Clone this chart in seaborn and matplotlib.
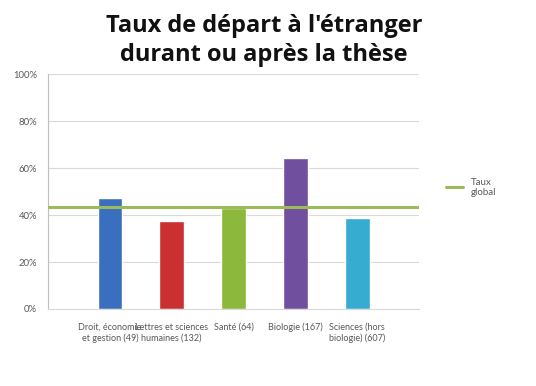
import matplotlib
matplotlib.use("Agg")
import matplotlib.pyplot as plt
import seaborn as sns
import pandas as pd
from matplotlib.ticker import PercentFormatter

# --- DATA ---
categories = [
    "Droit, économie\net gestion (49)",
    "Lettres et sciences\nhumaines (132)",
    "Santé (64)",
    "Biologie (167)",
    "Sciences (hors\nbiologie) (607)",
]
taux = [47.2, 37.4, 43.2, 64.4, 38.9]
taux_global = 43.5
bar_colors = ["#3a6fc0", "#c9302f", "#8cb83c", "#6f4f9e", "#35acd0"]

df = pd.DataFrame({"cat": categories, "taux": taux})

sns.set_style("white")
plt.rcParams["font.family"] = ["Lato", "DejaVu Sans"]

fig = plt.figure(figsize=(5.36, 3.86), dpi=100)
ax = fig.add_axes([0.0896, 0.1995, 0.6924, 0.6085])

sns.barplot(data=df, x="cat", y="taux", hue="cat", palette=bar_colors,
            width=0.4, legend=False, ax=ax, saturation=1)

ax.axhline(taux_global, color="#9bbb59", lw=2.2, label="Taux\nglobal", zorder=5)

ax.set_xlim(-1, 5)
ax.set_ylim(0, 100)
ax.set_yticks(range(0, 101, 20))
ax.yaxis.set_major_formatter(PercentFormatter(decimals=0))
ax.grid(axis="y", color="#d9d9d9", lw=0.8)
ax.set_axisbelow(True)
for s in ["top", "right"]:
    ax.spines[s].set_visible(False)
ax.spines["left"].set_color("#bfbfbf")
ax.spines["bottom"].set_color("#d9d9d9")
ax.tick_params(axis="y", labelsize=6.8, colors="#595959", length=0, pad=8)
ax.tick_params(axis="x", labelsize=6.5, colors="#595959", length=0, pad=10)
ax.set_xlabel("")
ax.set_ylabel("")

fig.legend(loc="center left", bbox_to_anchor=(0.815, 0.515), frameon=False,
           fontsize=7, labelcolor="#595959", handlelength=1.8)

fig.suptitle("Taux de départ à l'étranger\ndurant ou après la thèse",
             x=0.493, y=0.965, fontsize=17, fontweight="bold", linespacing=1.3,
             family=["Open Sans", "DejaVu Sans"], color="#111111")

fig.savefig("out.png", dpi=100)
